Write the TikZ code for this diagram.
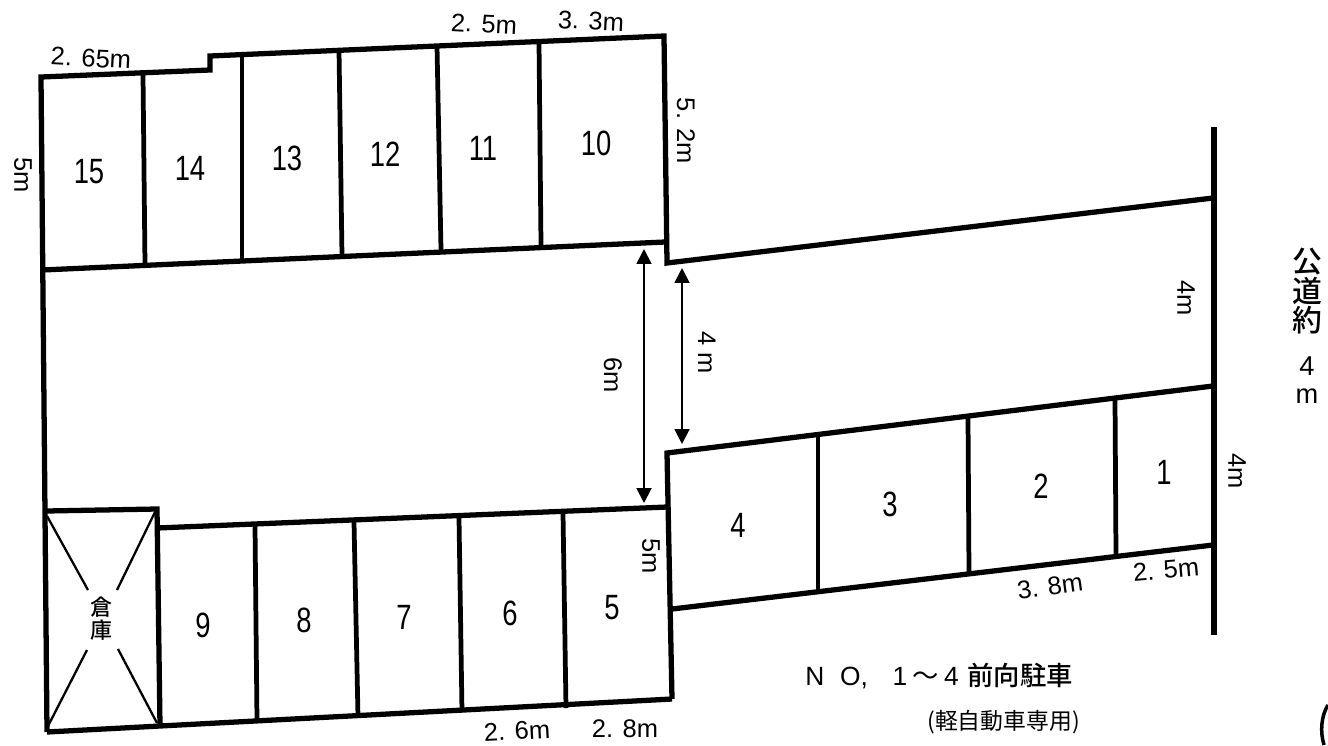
\documentclass[tikz,border=0pt]{standalone}
\usepackage{fontspec}
\setmainfont{Noto Sans CJK JP}
\newfontfamily\numfont{Liberation Sans}
\newfontfamily\midfont{Noto Sans CJK JP Medium}
\usetikzlibrary{arrows.meta}
\tikzstyle{wall} = [line width=3pt]
\tikzstyle{divider} = [line width=2.7pt]
\tikzstyle{cross} = [line width=1.3pt]
\tikzstyle{arrow} = [line width=1.1pt,{Triangle[length=8.5pt,width=8.5pt]}-{Triangle[length=8.5pt,width=8.5pt]}]
\tikzstyle{bay} = [inner sep=0pt, font=\numfont\fontsize{20}{20}\selectfont, xscale=0.78, transform shape]
\tikzstyle{dim} = [inner sep=0pt, font=\numfont\fontsize{14.5}{15}\selectfont]
\tikzstyle{road} = [inner sep=0pt, font=\midfont\fontsize{17}{17}\selectfont]
\tikzstyle{roadnum} = [inner sep=0pt, font=\numfont\fontsize{15.5}{15.5}\selectfont]

\begin{document}
\begin{tikzpicture}[x=0.02cm,y=-0.02cm]
\useasboundingbox (0,0) rectangle (1328,745);

% Outline
\draw [wall] (47,732) -- (41,77) -- (210,70) -- (210,56) -- (664,36) -- (667,263) -- (1213,198);
\draw [wall] (42,270) -- (665,242);
\draw [wall] (1214,127) -- (1214,635);
\draw [wall] (1213,386) -- (667,453) -- (672,699);
\draw [wall] (672,609) -- (1213,545);
\draw [wall] (46,511) -- (157,509) -- (160,726);
\draw [wall] (157,528) -- (667,507);
\draw [wall] (47,732) -- (160,726) -- (672,699);

% Dividers
\draw [divider] (143,75) -- (145,265);
\draw [divider] (242,55) -- (242,262);
\draw [divider] (339,50) -- (342,256);
\draw [divider] (437,46) -- (441,250);
\draw [divider] (539,42) -- (541,245);
\draw [divider] (255,526) -- (257,721);
\draw [divider] (354,522) -- (358,717);
\draw [divider] (459,518) -- (462,712);
\draw [divider] (563,513) -- (566,708);
\draw [divider] (818,436) -- (818,592);
\draw [divider] (968,417) -- (969,574);
\draw [divider] (1115,399) -- (1116,556);

% Storehouse
\draw [cross] (47,516) -- (88,590);
\draw [cross] (155,512) -- (117,590);
\draw [cross] (47,728) -- (87,650);
\draw [cross] (157,723) -- (118,649);
\node (soko1) [inner sep=0pt, font=\midfont\fontsize{12.5}{13}\selectfont] at (101,607) {倉};
\node (soko2) [inner sep=0pt, font=\midfont\fontsize{12.5}{13}\selectfont] at (101,630) {庫};

% Arrows
\coordinate (wideTop) at (644,249);
\coordinate (wideBot) at (644,503);
\coordinate (narrowTop) at (682,268);
\coordinate (narrowBot) at (682,444);
\draw [arrow] (wideTop) -- (wideBot);
\draw [arrow] (narrowTop) -- (narrowBot);

% Bay numbers
\node (b15) [bay] at (89,172) {15};
\node (b14) [bay] at (190,168) {14};
\node (b13) [bay] at (287,158) {13};
\node (b12) [bay] at (385,154) {12};
\node (b11) [bay] at (483,148) {11};
\node (b10) [bay] at (596,143) {10};
\node (b9) [bay] at (203,625) {9};
\node (b8) [bay] at (304,620) {8};
\node (b7) [bay] at (404,617) {7};
\node (b6) [bay] at (510,613) {6};
\node (b5) [bay] at (612,608) {5};
\node (b4) [bay] at (738,525) {4};
\node (b3) [bay] at (890,504) {3};
\node (b2) [bay] at (1041,486) {2};
\node (b1) [bay] at (1164,472) {1};

% Dimensions
\node (d265) [dim, rotate=-3] at (91,58) {2. 65m};
\node (d25a) [dim, rotate=-3] at (484,24) {2. 5m};
\node (d33) [dim, rotate=-3] at (591,21) {3. 3m};
\node (d26) [dim, rotate=3] at (517,731) {2. 6m};
\node (d28) [dim] at (625,729) {2. 8m};
\node (d38) [dim, rotate=8] at (1050,586) {3. 8m};
\node (d25b) [dim, rotate=5] at (1166,570) {2. 5m};
\node (d5a) [dim, rotate=-90] at (23,175) {5m};
\node (d52) [dim, rotate=-90] at (686,131) {5. 2m};
\node (d6) [dim, rotate=-90] at (613,375) {6m};
\node (d4a) [dim, rotate=-90] at (707,353) {4 m};
\node (d4b) [dim, rotate=-90] at (1186,298) {4m};
\node (d4c) [dim, rotate=-90] at (1237,471) {4m};
\node (d5b) [dim, rotate=-90] at (651,556) {5m};

% Public road
\node (ko) [road] at (1307,262) {公};
\node (michi) [road] at (1307,291) {道};
\node (yaku) [road] at (1307,320) {約};
\node (four) [roadnum] at (1307,366) {4};
\node (metre) [roadnum] at (1307,396) {m};

% Notes
\node (note1) [inner sep=0pt, anchor=west, font=\fontsize{15}{15}\selectfont] at (805,676) {{\numfont N\hspace{9pt}O,\hspace{14pt}1}\hspace{3pt}〜\hspace{3pt}{\numfont 4}\hspace{5pt}{\midfont 前向駐車}};
\node (note2) [inner sep=0pt, anchor=west, font=\fontsize{13}{13}\selectfont] at (927,722) {(軽自動車専用)};

% Corner mark
\draw [line width=2pt] (1328,705) .. controls (1321,716) and (1320,732) .. (1324,745);
\end{tikzpicture}
\end{document}
